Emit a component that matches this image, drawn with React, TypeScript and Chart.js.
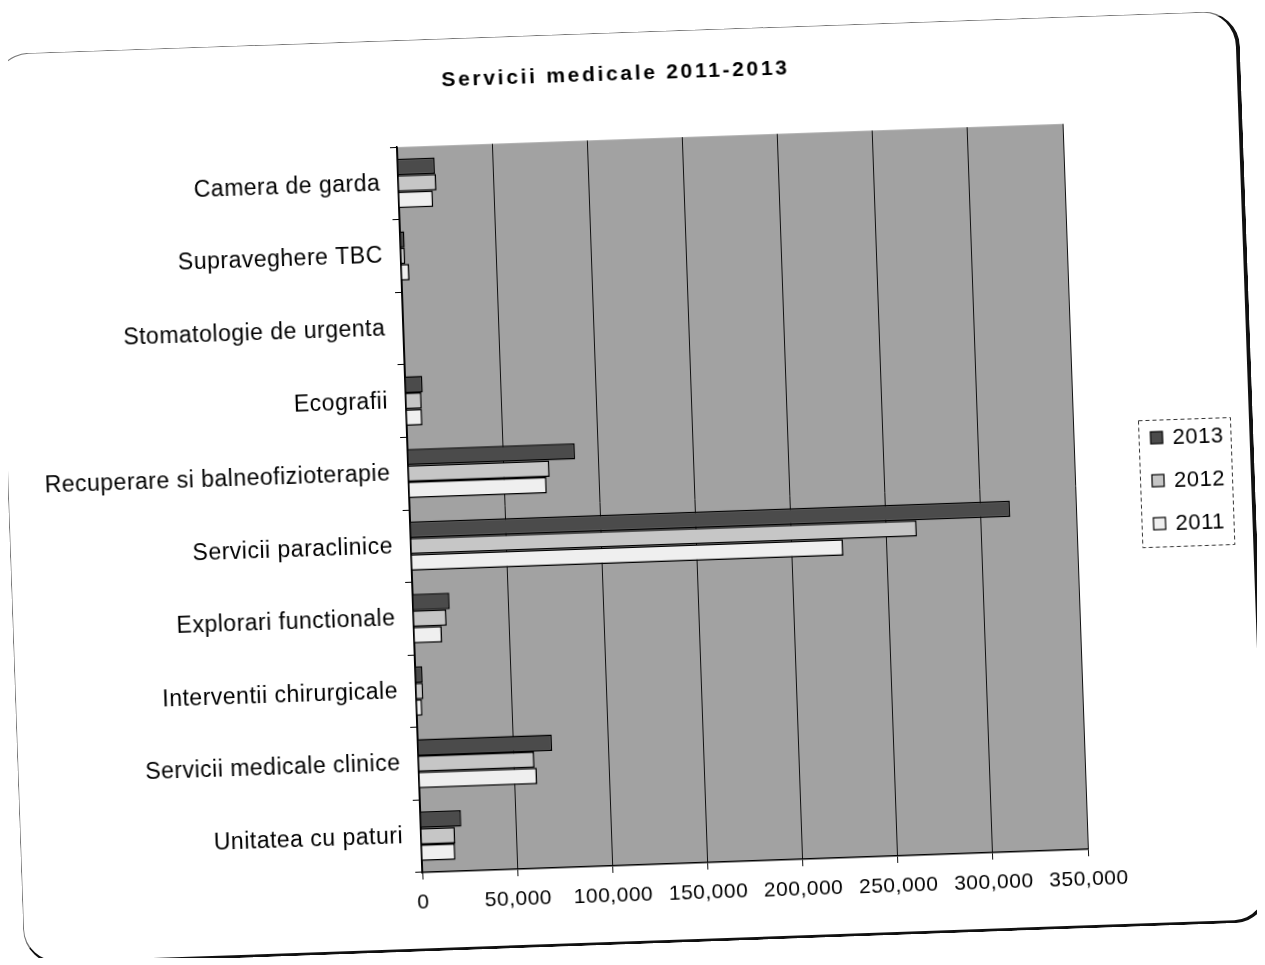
import React, { useEffect, useRef } from "react";
import { Chart, registerables } from "chart.js";

Chart.register(...registerables);

const chartTitle = "Servicii medicale 2011-2013";
const categories = [
  "Camera de garda",
  "Supraveghere TBC",
  "Stomatologie de urgenta",
  "Ecografii",
  "Recuperare si balneofizioterapie",
  "Servicii paraclinice",
  "Explorari functionale",
  "Interventii chirurgicale",
  "Servicii medicale clinice",
  "Unitatea cu paturi",
];
const seriesLabels = ["2013", "2012", "2011"];
const values2013 = [19500, 2300, 0, 9100, 87900, 315300, 19300, 3700, 70500, 21400];
const values2012 = [20000, 2300, 0, 8300, 74200, 266000, 17400, 3800, 60900, 17900];
const values2011 = [18000, 4200, 0, 8300, 72400, 227000, 14700, 3000, 62000, 17700];
const xMin = 0;
const xMax = 350000;
const xStep = 50000;

const FONT = '"Liberation Sans", Arial, Helvetica, sans-serif';
const seriesColors = ["#4b4b4b", "#c6c6c6", "#efefef"];

function setSpacing(ctx: any, v: string) {
  try {
    if ("letterSpacing" in ctx) ctx.letterSpacing = v;
  } catch (e) {}
}

const plotBackground = {
  id: "plotBackground",
  beforeDraw(chart: any) {
    const { ctx, chartArea } = chart;
    if (!chartArea) return;
    ctx.save();
    ctx.fillStyle = "#a2a2a2";
    ctx.fillRect(chartArea.left, chartArea.top, chartArea.right - chartArea.left, chartArea.bottom - chartArea.top);
    ctx.restore();
    // wide spacing for the title, which is drawn before the datasets
    setSpacing(ctx, "2.7px");
  },
  beforeDatasetsDraw(chart: any) {
    // tick labels are drawn after the datasets (ticks.z = 1)
    setSpacing(chart.ctx, "0.5px");
  },
};

const sideLegend = {
  id: "sideLegend",
  afterDraw(chart: any) {
    const { ctx, chartArea } = chart;
    if (!chartArea) return;
    const w = 92;
    const h = 127;
    const x0 = Math.round(chartArea.right + 65);
    const y0 = Math.round((chartArea.top + chartArea.bottom) / 2 - 64);
    ctx.save();
    setSpacing(ctx, "0.5px");
    ctx.setLineDash([4, 3]);
    ctx.strokeStyle = "#333";
    ctx.lineWidth = 1;
    ctx.strokeRect(x0 + 0.5, y0 + 0.5, w, h);
    ctx.setLineDash([]);
    ctx.font = `22px ${FONT}`;
    ctx.textBaseline = "middle";
    ctx.textAlign = "left";
    chart.data.datasets.forEach((ds: any, i: number) => {
      const cy = y0 + 18 + i * 43;
      ctx.fillStyle = ds.backgroundColor;
      ctx.fillRect(x0 + 12, cy - 6, 12, 12);
      ctx.strokeStyle = "#000";
      ctx.lineWidth = 1.2;
      ctx.strokeRect(x0 + 12, cy - 6, 12, 12);
      ctx.fillStyle = "#000";
      ctx.fillText(ds.label, x0 + 34, cy + 1);
    });
    ctx.restore();
    setSpacing(ctx, "0px");
  },
};

export default function App() {
  const canvasRef = useRef<HTMLCanvasElement | null>(null);

  useEffect(() => {
    if (!canvasRef.current) return;
    const datasets = [values2013, values2012, values2011].map((vals, i) => ({
      label: seriesLabels[i],
      data: vals,
      backgroundColor: seriesColors[i],
      borderColor: "#000",
      borderWidth: 1.5,
      categoryPercentage: 0.68,
      barPercentage: 1.0,
    }));
    const chart = new Chart(canvasRef.current, {
      type: "bar",
      data: { labels: categories, datasets },
      plugins: [plotBackground, sideLegend],
      options: {
        indexAxis: "y",
        animation: false,
        responsive: true,
        maintainAspectRatio: false,
        layout: { padding: { left: 16, right: 16, top: 0, bottom: 36 } },
        plugins: {
          legend: { display: false },
          tooltip: { enabled: false },
          title: {
            display: true,
            text: chartTitle,
            color: "#000",
            font: { family: FONT, size: 21, weight: "bold" },
            padding: { top: 29, bottom: 52 },
          },
        },
        scales: {
          x: {
            type: "linear",
            min: xMin,
            max: xMax,
            ticks: {
              stepSize: xStep,
              color: "#000",
              font: { family: FONT, size: 21 },
              padding: 11,
              maxRotation: 0,
              autoSkip: false,
              z: 1,
              callback: (v: any) => Number(v).toLocaleString("en-US"),
            },
            grid: { color: "#111", lineWidth: 1, tickLength: 7, drawTicks: true },
            border: { color: "#000", width: 1.5 },
            afterFit: (s: any) => {
              s.height = 40;
            },
          },
          y: {
            ticks: { color: "#000", font: { family: FONT, size: 23 }, padding: 11, autoSkip: false, z: 1 },
            grid: { drawOnChartArea: false, color: "#000", tickLength: 7, offset: true },
            border: { color: "#000", width: 1.5 },
            afterFit: (s: any) => {
              s.width = 384;
            },
          },
          // empty band on the right that holds the legend
          legendBand: {
            type: "category",
            position: "right",
            display: true,
            grid: { display: false, drawTicks: false },
            border: { display: false },
            ticks: { display: false },
            afterFit: (s: any) => {
              s.width = 160;
            },
          },
        },
      } as any,
    });
    return () => chart.destroy();
  }, []);

  return (
    <div style={{ position: "relative", width: 1249, height: 950 }}>
      <div
        style={{
          position: "absolute",
          left: 0,
          top: 24,
          width: 1247,
          height: 912,
          boxSizing: "border-box",
          borderTop: "1px solid #777",
          borderLeft: "1px solid #777",
          borderRight: "4px solid #111",
          borderBottom: "3px solid #111",
          borderRadius: 36,
          background: "#fff",
          transform: "rotate(-2deg)",
          transformOrigin: "50% 50%",
        }}
      >
        <div style={{ position: "relative", width: 1242, height: 908 }}>
          <canvas ref={canvasRef} />
        </div>
      </div>
    </div>
  );
}
